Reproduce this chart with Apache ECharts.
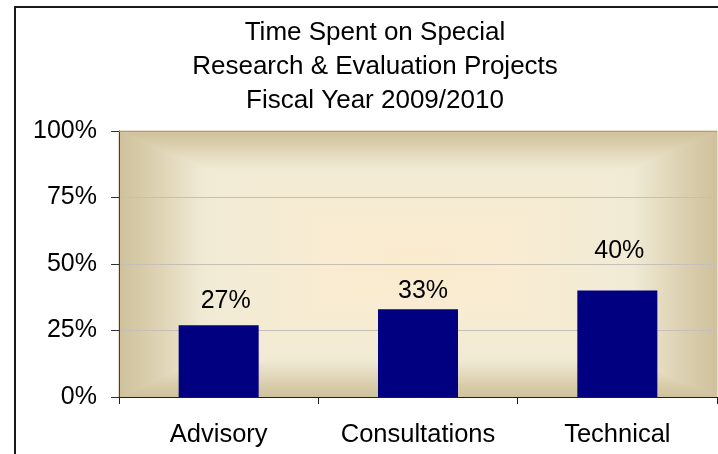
<!DOCTYPE html>
<html>
<head>
<meta charset="utf-8">
<style>
  html, body { margin: 0; padding: 0; background: #ffffff; }
  #chart { width: 718px; height: 454px; }
</style>
<script src="https://cdn.jsdelivr.net/npm/echarts@6/dist/echarts.min.js"></script>
</head>
<body>
<div id="chart"></div>
<script>
// Share of time spent on special research & evaluation projects, FY 2009/2010
const categories = ['Advisory', 'Consultations', 'Technical'];
const shares = [27, 33, 40];            // percent of time
const yTicks = [0, 25, 50, 75, 100];    // percent axis ticks
const titleLines = ['Time Spent on Special', 'Research & Evaluation Projects', 'Fiscal Year 2009/2010'];

// hand-placed offsets of the value labels above the bars
const labelOffsets = [[7, -7], [5, -1], [2, -22]];

const FONT = '"Liberation Sans", Arial, sans-serif';
const GRID = { left: 119, right: 1, top: 131, bottom: 57 };
const W = 718, H = 454;

const plot = {
  x: GRID.left,
  y: GRID.top,
  w: W - GRID.left - GRID.right,
  h: H - GRID.top - GRID.bottom
};
const cx = plot.x + plot.w / 2;
const cy = plot.y + plot.h / 2;

// rectangular "from centre" parchment fill: tan rim, pale band, cream centre
const stops = [
  { offset: 0.00, color: '#CFC19C' },
  { offset: 0.09, color: '#D8CCAA' },
  { offset: 0.28, color: '#F0EAD5' },
  { offset: 0.60, color: '#F7ECD3' },
  { offset: 1.00, color: '#FBEBCE' }
];
function grad(x, y, x2, y2) {
  return { type: 'linear', x: x, y: y, x2: x2, y2: y2, colorStops: stops };
}
function tri(points, g) {
  return {
    type: 'polygon', z: -10, silent: true,
    shape: { points: points },
    style: { fill: g, stroke: g, lineWidth: 1 }
  };
}
const L = plot.x, T = plot.y, R = plot.x + plot.w, B = plot.y + plot.h;
const background = [
  { type: 'rect', z: -11, silent: true,
    shape: { x: L, y: T, width: plot.w, height: plot.h },
    style: { fill: '#EDE5CC' } },
  tri([[L, T], [R, T], [cx, cy]], grad(0, 0, 0, 1)),
  tri([[L, B], [R, B], [cx, cy]], grad(0, 1, 0, 0)),
  tri([[L, T], [L, B], [cx, cy]], grad(0, 0, 1, 0)),
  tri([[R, T], [R, B], [cx, cy]], grad(1, 0, 0, 0)),
  // plot area top edge
  { type: 'line', z: 5, silent: true,
    shape: { x1: L, y1: T + 0.5, x2: R, y2: T + 0.5 },
    style: { stroke: '#A4A09A', lineWidth: 1 } },
  // outer chart frame
  { type: 'rect', z: 5, silent: true,
    shape: { x: 15, y: 7, width: 1000, height: 1000 },
    style: { fill: 'none', stroke: '#1a1a1a', lineWidth: 2 } }
];

const chart = echarts.init(document.getElementById('chart'), null, { renderer: 'canvas' });

chart.setOption({
  backgroundColor: '#ffffff',
  animation: false,
  title: {
    text: titleLines.join('\n'),
    left: 375,
    top: 16,
    textAlign: 'center',
    padding: 0,
    textStyle: {
      fontFamily: FONT,
      fontSize: 26,
      fontWeight: 'normal',
      color: '#000000',
      lineHeight: 34
    }
  },
  grid: {
    left: GRID.left,
    right: GRID.right,
    top: GRID.top,
    bottom: GRID.bottom,
    containLabel: false
  },
  graphic: background,
  xAxis: {
    type: 'category',
    data: categories,
    boundaryGap: true,
    axisLine: { show: true, lineStyle: { color: '#202020', width: 1 } },
    axisTick: { show: true, interval: 0, alignWithLabel: false, length: 7, lineStyle: { color: '#202020' } },
    axisLabel: { interval: 0, hideOverlap: false, margin: 25, fontFamily: FONT, fontSize: 25.5, color: '#000000' },
    splitLine: { show: false }
  },
  yAxis: {
    type: 'value',
    min: yTicks[0],
    max: yTicks[yTicks.length - 1],
    interval: yTicks[1] - yTicks[0],
    axisLine: { show: true, lineStyle: { color: '#404040', width: 1 } },
    axisTick: { show: true, length: 8, lineStyle: { color: '#303030' } },
    axisLabel: {
      margin: 22,
      fontFamily: FONT,
      fontSize: 25,
      color: '#000000',
      formatter: '{value}%'
    },
    splitLine: { show: true, lineStyle: { color: '#C4C0B8', width: 1 } }
  },
  series: [{
    type: 'bar',
    barWidth: 80,
    itemStyle: { color: '#000080' },
    label: {
      show: true,
      position: 'top',
      distance: 5,
      fontFamily: FONT,
      fontSize: 25,
      color: '#000000',
      formatter: '{c}%'
    },
    data: shares.map(function (v, i) {
      return { value: v, label: { offset: labelOffsets[i] } };
    })
  }]
});
</script>
</body>
</html>
